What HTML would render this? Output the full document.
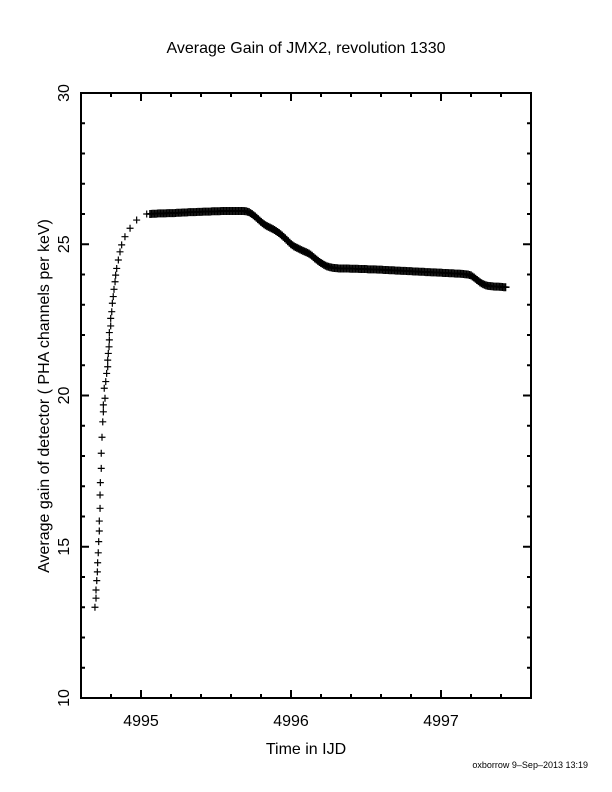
<!DOCTYPE html>
<html><head><meta charset="utf-8"><style>
html,body{margin:0;padding:0;background:#fff;}
svg{display:block;font-family:"Liberation Sans",Arial,sans-serif;}
</style></head><body>
<svg id="chart" width="612" height="792" viewBox="0 0 612 792">
<text x="306" y="53" text-anchor="middle" font-size="16">Average Gain of JMX2, revolution 1330</text>
<g id="plot"></g>
<g id="axes"></g>
<text x="306" y="754" text-anchor="middle" font-size="16">Time in IJD</text>
<text transform="translate(49,396) rotate(-90)" text-anchor="middle" font-size="16">Average gain of detector ( PHA channels per keV)</text>
<text x="588" y="768" text-anchor="end" font-size="9">oxborrow  9–Sep–2013 13:19</text>
</svg>
<script>
const xTicksMajor = [4995, 4996, 4997];
const yTicksMajor = [10, 15, 20, 25, 30];
const riseTimes = [4994.693,4994.700,4994.700,4994.705,4994.709,4994.711,4994.715,4994.718,4994.722,4994.722,4994.727,4994.727,4994.729,4994.735,4994.735,4994.740,4994.745,4994.749,4994.749,4994.760,4994.755,4994.765,4994.771,4994.778,4994.778,4994.782,4994.787,4994.789,4994.789,4994.798,4994.798,4994.805,4994.809,4994.815,4994.820,4994.827,4994.831,4994.838,4994.849,4994.860,4994.871,4994.893,4994.927,4994.971,4995.038];
const riseValues = [13.0,13.3,13.57,13.88,14.17,14.47,14.8,15.17,15.52,15.85,16.27,16.71,17.12,17.59,18.09,18.62,19.13,19.46,19.69,19.91,20.24,20.46,20.73,20.95,21.17,21.39,21.61,21.84,22.08,22.3,22.55,22.77,23.05,23.27,23.51,23.76,23.98,24.2,24.48,24.75,24.98,25.25,25.53,25.8,26.0];
const denseStart = 4995.06;
const denseStep = 0.02;
const denseValues = [26.00,26.01,26.01,26.02,26.02,26.02,26.03,26.03,26.03,26.04,26.04,26.05,26.05,26.06,26.06,26.06,26.07,26.07,26.08,26.08,26.08,26.09,26.09,26.09,26.10,26.10,26.10,26.10,26.10,26.10,26.10,26.10,26.09,26.06,26.00,25.92,25.83,25.74,25.66,25.60,25.55,25.50,25.44,25.37,25.29,25.20,25.10,25.00,24.93,24.88,24.83,24.78,24.74,24.69,24.62,24.53,24.45,24.38,24.32,24.27,24.24,24.22,24.21,24.20,24.20,24.20,24.20,24.19,24.19,24.19,24.18,24.18,24.18,24.17,24.17,24.17,24.16,24.16,24.15,24.15,24.14,24.14,24.13,24.13,24.12,24.12,24.11,24.11,24.10,24.10,24.09,24.09,24.08,24.08,24.07,24.07,24.06,24.06,24.05,24.05,24.04,24.04,24.03,24.03,24.02,24.01,24.00,23.97,23.90,23.82,23.74,23.68,23.64,23.62,23.61,23.60,23.60,23.59,23.58];

const X0=81, X1=531, Y0=93, Y1=698;
const xMin=4994.6, xMax=4997.6, yMin=10, yMax=30;
function xs(t){return X0+(t-xMin)/(xMax-xMin)*(X1-X0);}
function ys(v){return Y1-(v-yMin)/(yMax-yMin)*(Y1-Y0);}
const NS="http://www.w3.org/2000/svg";
const plot=document.getElementById('plot');
const axes=document.getElementById('axes');
function mk(tag,attrs,parent){const e=document.createElementNS(NS,tag);for(const k in attrs)e.setAttribute(k,attrs[k]);parent.appendChild(e);return e;}

// frame
const fr=mk('rect',{x:X0,y:Y0,width:X1-X0,height:Y1-Y0,fill:'none',stroke:'#000','stroke-width':2},axes);



// x ticks
for(let t=4994.8;t<=xMax+1e-6;t+=0.2){
  const isMaj=xTicksMajor.some(m=>Math.abs(m-t)<1e-6);
  const L=isMaj?8:4, x=xs(t);
  const a=mk('line',{x1:x,x2:x,y1:Y1,y2:Y1-L,stroke:'#000','stroke-width':2},axes);
  
  
  const b=mk('line',{x1:x,x2:x,y1:Y0,y2:Y0+L,stroke:'#000','stroke-width':2},axes);
  
  
}
xTicksMajor.forEach(t=>{
  const tx=mk('text',{x:xs(t),y:Y1+28,'text-anchor':'middle','font-size':16},axes);
  tx.textContent=String(t);
  
  
});
// y ticks
for(let v=11;v<30;v++){
  const isMaj=yTicksMajor.includes(v);
  const L=isMaj?8:4, y=ys(v);
  const a=mk('line',{x1:X0,x2:X0+L,y1:y,y2:y,stroke:'#000','stroke-width':2},axes);
  
  
  const b=mk('line',{x1:X1,x2:X1-L,y1:y,y2:y,stroke:'#000','stroke-width':2},axes);
  
  
}
yTicksMajor.forEach(v=>{
  const tx=mk('text',{transform:'translate(69,'+ys(v)+') rotate(-90)','text-anchor':'middle','font-size':16},axes);
  tx.textContent=String(v);
  
  
});

function cross(t,v,h,w){
  const x=xs(t),y=ys(v);
  const p=mk('path',{d:'M'+(x-h)+' '+y+'H'+(x+h)+'M'+x+' '+(y-h)+'V'+(y+h),stroke:'#000','stroke-width':w,fill:'none'},plot);
  
  
}
riseTimes.forEach((t,i)=>cross(t,riseValues[i],3.5,1.2));
denseValues.forEach((v,i)=>{
  const t=denseStart+i*denseStep;
  cross(t,v,4,1.6);
  cross(t+denseStep/2,(v+(denseValues[i+1]!==undefined?denseValues[i+1]:v))/2,4,1.6);
});
</script>
</body></html>
